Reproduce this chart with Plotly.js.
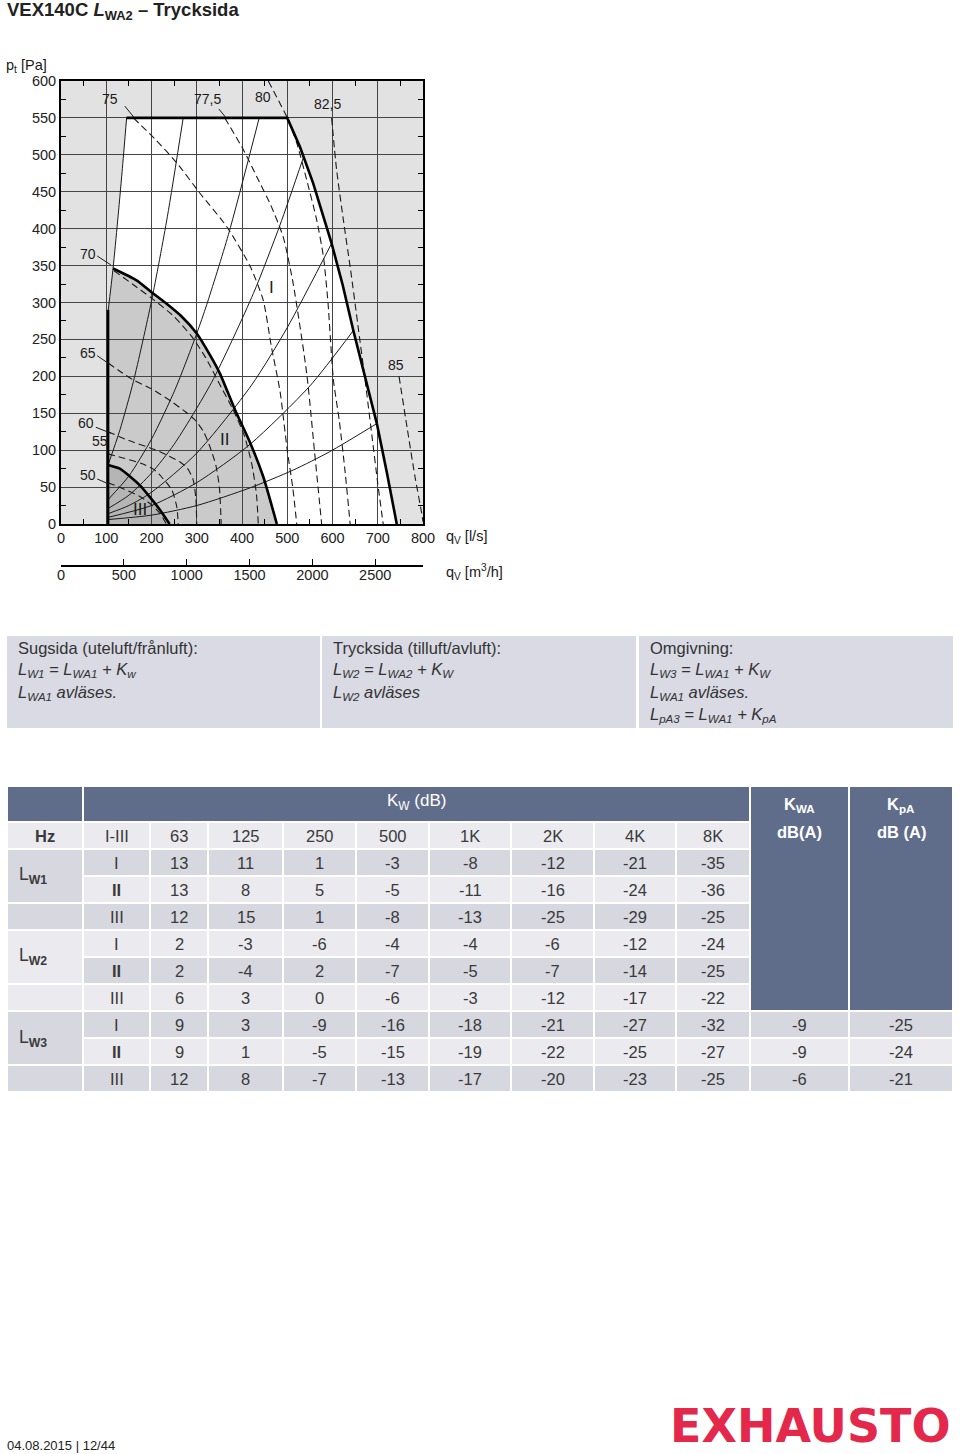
<!DOCTYPE html>
<html><head><meta charset="utf-8">
<script src="https://cdn.plot.ly/plotly-3.0.1.min.js"></script>
<style>html,body{margin:0;padding:0;background:#fff}#chart{width:960px;height:1454px}</style>
</head><body><div id="chart"></div>
<script>
// ---------------- chart data ----------------
// system curves (thin solid), q [l/s], p [Pa]
const sys1Q = [104,115,125,135,145],            sys1P = [288,346,409,477,550];
const sys2Q = [104,130,160,200,235,270],        sys2P = [80,127,193,302,416,550];
const sys3Q = [104,150,200,252,300,322,370,438],sys3P = [33,65,115,182,258,297,392,550];
const sys4Q = [104,150,200,250,333,425,484,536],sys4P = [21,39,69,108,192,312,405,497];
const sys5Q = [104,150,200,300,421,500,598],    sys5P = [14,25,43,96,188,266,380];
const sys6Q = [104,200,300,418,550,646],        sys6P = [9,25,56,108,187,262];
const sys7Q = [104,200,300,418,513,594,698],    sys7P = [6,12,25,49,73,98,136];
// envelopes (thick), speed I, II, III
const envIQ   = [145,500,528,557,598,622,646,672,698,720,742];
const envIP   = [550,550,511,462,380,325,262,200,136,70,0];
const envIIQ  = [115,167,200,230,265,300,330,351,385,418,447,477];
const envIIP  = [346,330,314,300,282,258,228,204,154,110,64,0];
const envIIIQ = [104,130,155,175,197,220,240];
const envIIIP = [80,75,63,52,36,18,0];
const minFlowQ = [104,104], minFlowP = [0,290];
// sound power contours L_WA2 (dashed)
const contourLabels = ['50','55','60','65','70','75','77,5','80','82,5','85'];
const c50Q  = [104,140,175,200,219,233],                 c50P  = [56,47,37,26,14,0];
const c55Q  = [104,140,178,205,222,245,256,259],         c55P  = [95,89,82,74,64,46,23,0];
const c60Q  = [104,150,197,222,263,280,292,298,300],     c60P  = [125,113,103,97,84,75,60,35,0];
const c65Q  = [104,130,160,200,244,275,296,315,329,342,350,354], c65P = [218,207,195,183,166,152,141,125,105,80,50,0];
const c70Q  = [117,160,200,250,290,320,350,380,405,422,432,436], c70P = [343,324,306,281,253,225,190,155,120,80,40,0];
const c75Q  = [160,210,256,307,366,418,447,465,484,500,512,521], c75P = [550,520,489,448,403,349,303,240,180,100,50,0];
const c775Q = [362,403,432,462,491,513,543,560,576],     c775P = [550,507,471,434,389,326,204,100,0];
const c80Q  = [458,500,521,543,565,580,590,602,615,628,639], c80P = [600,550,516,466,412,362,300,195,140,70,0];
const c825Q = [598,609,624,640,656,672,688,700,712],     c825P = [550,480,412,344,270,195,115,55,0];
const c85Q  = [747,765,782,797,800],                     c85P  = [200,130,65,15,3];
// label positions of contours (q, p)
const labelQ = [60,86,55,60,60,108,323,446,590,740];
const labelP = [66,112,137,232,366,576,576,579,569,215];
const speedLabels = ['I','II','III'];
const speedLabelQ = [466,362,175], speedLabelP = [321,114,19];

// ---------------- table data ----------------
const freqHeader = ['I-III','63','125','250','500','1K','2K','4K','8K'];
const groupLabels = ['L<sub><b>W1</b></sub>','L<sub><b>W2</b></sub>','L<sub><b>W3</b></sub>'];
const speedCol = ['I','II','III','I','II','III','I','II','III'];
const kwLW1 = [[13,11,1,-3,-8,-12,-21,-35],[13,8,5,-5,-11,-16,-24,-36],[12,15,1,-8,-13,-25,-29,-25]];
const kwLW2 = [[2,-3,-6,-4,-4,-6,-12,-24],[2,-4,2,-7,-5,-7,-14,-25],[6,3,0,-6,-3,-12,-17,-22]];
const kwLW3 = [[9,3,-9,-16,-18,-21,-27,-32],[9,1,-5,-15,-19,-22,-25,-27],[12,8,-7,-13,-17,-20,-23,-25]];
const kwaLW3 = [-9,-9,-6];
const kpaLW3 = [-25,-24,-21];
const boxTexts = [
  ['Sugsida (uteluft/frånluft):','<i>L<sub>W1</sub> = L<sub>WA1</sub> + K<sub>w</sub></i>','<i>L<sub>WA1</sub> avläses.</i>'],
  ['Trycksida (tilluft/avluft):','<i>L<sub>W2</sub> = L<sub>WA2</sub> + K<sub>W</sub></i>','<i>L<sub>W2</sub> avläses</i>'],
  ['Omgivning:','<i>L<sub>W3</sub> = L<sub>WA1</sub> + K<sub>W</sub></i>','<i>L<sub>WA1</sub> avläses.</i>','<i>L<sub>pA3</sub> = L<sub>WA1</sub> + K<sub>pA</sub></i>']
];

// ---------------- layout constants ----------------
const W = 960, H = 1454;
const FONT = 'Liberation Sans, Arial, sans-serif';
const INK = '#1a1a1a';
const py = v => 1 - v / H;
const colEdges = [7,83,150,208,283,356,429,511,594,676,750,849,953];
const rowTop = 786, hdrH = 36, rowH = 27;
const DARK = '#5f6d8b', LIGHT = '#eaeaef', MID = '#d6d7df', BOXBG = '#d9dae3';

function polyPath(qs, ps) {
  return 'M' + qs.map((q, i) => q + ',' + ps[i]).join('L') + 'Z';
}

const traces = [];
const thin = (q, p) => ({x: q, y: p, type: 'scatter', mode: 'lines', hoverinfo: 'skip', showlegend: false,
  line: {color: INK, width: 1, shape: 'spline', smoothing: 0.7}});
[[sys1Q,sys1P],[sys2Q,sys2P],[sys3Q,sys3P],[sys4Q,sys4P],[sys5Q,sys5P],[sys6Q,sys6P],[sys7Q,sys7P]]
  .forEach(([q,p]) => traces.push(thin(q,p)));
const contours = [[c50Q,c50P],[c55Q,c55P],[c60Q,c60P],[c65Q,c65P],[c70Q,c70P],[c75Q,c75P],[c775Q,c775P],[c80Q,c80P],[c825Q,c825P],[c85Q,c85P]];
contours.forEach(([q,p]) => traces.push({x: q, y: p, type: 'scatter', mode: 'lines', hoverinfo: 'skip', showlegend: false,
  line: {color: INK, width: 1.1, dash: '7px,4px', shape: 'spline', smoothing: 0.6}}));
const thick = (q, p, shape) => ({x: q, y: p, type: 'scatter', mode: 'lines', hoverinfo: 'skip', showlegend: false,
  line: {color: '#000', width: 2.6, shape: shape, smoothing: 0.6}});
traces.push(thick(minFlowQ, minFlowP, 'linear'));
traces.push(thick(envIQ, envIP, 'linear'));
traces.push(thick(envIIQ, envIIP, 'spline'));
traces.push(thick(envIIIQ, envIIIP, 'spline'));
// secondary (m3/h) axis carrier
traces.push({x: [0, 2880], y: [null, null], xaxis: 'x2', yaxis: 'y', type: 'scatter', mode: 'lines', hoverinfo: 'skip', showlegend: false});
// table subplot carrier
traces.push({x: [0], y: [630], xaxis: 'x3', yaxis: 'y3', type: 'scatter', mode: 'markers', marker: {opacity: 0}, hoverinfo: 'skip', showlegend: false});

const shapes = [];
// chart regions (below grid)
shapes.push({type: 'rect', xref: 'x', yref: 'y', x0: 0, x1: 800, y0: 0, y1: 600, fillcolor: '#e2e2e2', line: {width: 0}, layer: 'below'});
shapes.push({type: 'path', xref: 'x', yref: 'y', layer: 'below', fillcolor: '#ffffff', line: {width: 0},
  path: polyPath([...sys1Q, ...envIQ.slice(1), 104], [...sys1P, ...envIP.slice(1), 0])});
shapes.push({type: 'path', xref: 'x', yref: 'y', layer: 'below', fillcolor: '#cacaca', line: {width: 0},
  path: polyPath([104, 104, ...envIIQ], [0, 288, ...envIIP])});
shapes.push({type: 'path', xref: 'x', yref: 'y', layer: 'below', fillcolor: '#b5b5b5', line: {width: 0},
  path: polyPath([104, ...envIIIQ], [0, ...envIIIP])});
// leader lines from labels
const leaders = [[141,566,161,551],[349,562,365,550],[80,363,110,351],[80,228,106,217],[77,131,110,123],[80,61,106,54]];
leaders.forEach(l => shapes.push({type: 'line', xref: 'x', yref: 'y', x0: l[0], y0: l[1], x1: l[2], y1: l[3], line: {color: INK, width: 1}}));

const annotations = [];
contourLabels.forEach((t, i) => annotations.push({xref: 'x', yref: 'y', x: labelQ[i], y: labelP[i], text: t, showarrow: false,
  font: {family: FONT, size: 14, color: INK}}));
speedLabels.forEach((t, i) => annotations.push({xref: 'x', yref: 'y', x: speedLabelQ[i], y: speedLabelP[i], text: t, showarrow: false,
  font: {family: FONT, size: 17, color: INK}}));

// titles
annotations.push({xref: 'paper', yref: 'paper', x: 5 / W, y: py(11), xanchor: 'left', yanchor: 'middle', showarrow: false,
  text: '<b>VEX140C <i>L</i><sub>WA2</sub> – Trycksida</b>', font: {family: FONT, size: 18.5, color: '#222'}});
annotations.push({xref: 'paper', yref: 'paper', x: 4 / W, y: py(66), xanchor: 'left', yanchor: 'middle', showarrow: false,
  text: 'p<sub>t</sub> [Pa]', font: {family: FONT, size: 14.5, color: INK}});
annotations.push({xref: 'paper', yref: 'paper', x: 444 / W, y: py(537), xanchor: 'left', yanchor: 'middle', showarrow: false,
  text: 'q<sub>V</sub> [l/s]', font: {family: FONT, size: 14.5, color: INK}});
annotations.push({xref: 'paper', yref: 'paper', x: 444 / W, y: py(572), xanchor: 'left', yanchor: 'middle', showarrow: false,
  text: 'q<sub>V</sub> [m<sup>3</sup>/h]', font: {family: FONT, size: 14.5, color: INK}});

// ---------------- text boxes ----------------
const boxX = [[7,320],[322,636],[639,953]];
boxX.forEach((b, i) => {
  shapes.push({type: 'rect', xref: 'x3', yref: 'y3', x0: b[0], x1: b[1], y0: 636, y1: 728, fillcolor: BOXBG, line: {width: 0}});
  boxTexts[i].forEach((t, j) => annotations.push({xref: 'x3', yref: 'y3', x: b[0] + 9, y: 648 + j * 22.5, xanchor: 'left', yanchor: 'middle',
    showarrow: false, text: t, font: {family: FONT, size: 16.5, color: '#333'}}));
});

// ---------------- table ----------------
function cell(c0, c1, r0, r1, color) {
  shapes.push({type: 'rect', xref: 'x3', yref: 'y3', x0: colEdges[c0] + 1, x1: colEdges[c1] - 1, y0: r0 + 1, y1: r1 - 1,
    fillcolor: color, line: {width: 0}});
}
function txt(x, y, t, opts) {
  annotations.push(Object.assign({xref: 'x3', yref: 'y3', x: x, y: y, text: t, showarrow: false, xanchor: 'center', yanchor: 'middle',
    font: {family: FONT, size: 16.5, color: '#3a3a3a'}}, opts || {}));
}
const cx = i => (colEdges[i] + colEdges[i + 1]) / 2;
const hzTop = rowTop + hdrH, dataTop = hzTop + rowH;
const rowY = r => dataTop + r * rowH;
// header row
cell(0, 1, rowTop, hzTop, DARK);
cell(1, 10, rowTop, hzTop, DARK);
cell(10, 11, rowTop, rowY(6), DARK);
cell(11, 12, rowTop, rowY(6), DARK);
txt((colEdges[1] + colEdges[10]) / 2, rowTop + 16, 'K<sub>W</sub> (dB)', {font: {family: FONT, size: 17, color: '#fff'}});
txt(cx(10), rowTop + 19, '<b>K<sub>WA</sub></b>', {font: {family: FONT, size: 16.5, color: '#fff'}});
txt(cx(10), rowTop + 46, '<b>dB(A)</b>', {font: {family: FONT, size: 16.5, color: '#fff'}});
txt(cx(11), rowTop + 19, '<b>K<sub>pA</sub></b>', {font: {family: FONT, size: 16.5, color: '#fff'}});
txt(cx(11), rowTop + 46, '<b>dB (A)</b>', {font: {family: FONT, size: 16.5, color: '#fff'}});
// Hz row
for (let c = 0; c < 10; c++) cell(c, c + 1, hzTop, dataTop, LIGHT);
txt(cx(0), hzTop + 14, '<b>Hz</b>');
freqHeader.forEach((f, i) => txt(cx(i + 1), hzTop + 14, f));
// data rows
const allRows = [...kwLW1, ...kwLW2, ...kwLW3];
const rowColor = r => (r % 2 === 0 ? MID : LIGHT);
for (let r = 0; r < 9; r++) {
  for (let c = 1; c < 10; c++) cell(c, c + 1, rowY(r), rowY(r + 1), rowColor(r));
  txt(cx(1), rowY(r) + 14, speedCol[r] === 'II' ? '<b>II</b>' : speedCol[r]);
  allRows[r].forEach((v, i) => txt(cx(i + 2), rowY(r) + 14, String(v)));
}
// group label column
for (let g = 0; g < 3; g++) {
  const gc = g === 1 ? LIGHT : MID;
  cell(0, 1, rowY(3 * g), rowY(3 * g + 2), gc);
  cell(0, 1, rowY(3 * g + 2), rowY(3 * g + 3), gc);
  txt(17, rowY(3 * g) + rowH, groupLabels[g], {xanchor: 'left', font: {family: FONT, size: 17.5, color: '#3a3a3a'}});
}
// K_WA / K_pA values
for (let r = 0; r < 3; r++) {
  cell(10, 11, rowY(6 + r), rowY(7 + r), rowColor(6 + r));
  cell(11, 12, rowY(6 + r), rowY(7 + r), rowColor(6 + r));
  txt(cx(10), rowY(6 + r) + 14, String(kwaLW3[r]));
  txt(cx(11), rowY(6 + r) + 14, String(kpaLW3[r]));
}

// footer
annotations.push({xref: 'paper', yref: 'paper', x: 5 / W, y: py(1445), xanchor: 'left', yanchor: 'middle', showarrow: false,
  text: '04.08.2015 | 12/44', font: {family: FONT, size: 13, color: '#222'}});
annotations.push({xref: 'paper', yref: 'paper', x: 953 / W, y: py(1426), xanchor: 'right', yanchor: 'middle', showarrow: false,
  text: '<b>EXHAUSTO</b>', font: {family: 'DejaVu Sans, sans-serif', size: 46, color: '#e3284c'}});

const tickFont = {family: FONT, size: 14.5, color: '#222'};
const layout = {
  width: W, height: H, margin: {l: 0, r: 0, t: 0, b: 0, pad: 0},
  paper_bgcolor: '#fff', plot_bgcolor: 'rgba(0,0,0,0)', showlegend: false,
  xaxis: {domain: [61 / W, 423 / W], range: [0, 800], dtick: 100, tick0: 0, showgrid: true, gridcolor: '#454545', gridwidth: 1,
    showline: true, linecolor: '#000', linewidth: 2, mirror: 'allticks', ticks: '', zeroline: false, tickfont: tickFont,
    minor: {dtick: 50, tick0: 0, ticks: 'inside', ticklen: 5, tickcolor: '#000', tickwidth: 1, showgrid: false}, fixedrange: true},
  yaxis: {domain: [py(524), py(81)], range: [0, 600], dtick: 50, tick0: 0, showgrid: true, gridcolor: '#454545', gridwidth: 1,
    showline: true, linecolor: '#000', linewidth: 2, mirror: 'allticks', ticks: '', zeroline: false, tickfont: tickFont,
    minor: {dtick: 25, tick0: 0, ticks: 'inside', ticklen: 5, tickcolor: '#000', tickwidth: 1, showgrid: false}, fixedrange: true},
  xaxis2: {overlaying: 'x', anchor: 'free', position: py(565), side: 'bottom', range: [0, 2880], dtick: 500, tick0: 0,
    showgrid: false, zeroline: false, showline: true, linecolor: '#000', linewidth: 1.5, ticks: 'inside', ticklen: 6,
    tickcolor: '#000', tickfont: tickFont, ticklabelstandoff: -4, fixedrange: true},
  xaxis3: {domain: [0, 1], range: [0, W], visible: false, anchor: 'y3', fixedrange: true},
  yaxis3: {domain: [py(1100), py(630)], range: [1100, 630], visible: false, anchor: 'x3', fixedrange: true},
  shapes: shapes, annotations: annotations
};
Plotly.newPlot('chart', traces, layout, {staticPlot: true, displayModeBar: false});
</script></body></html>
